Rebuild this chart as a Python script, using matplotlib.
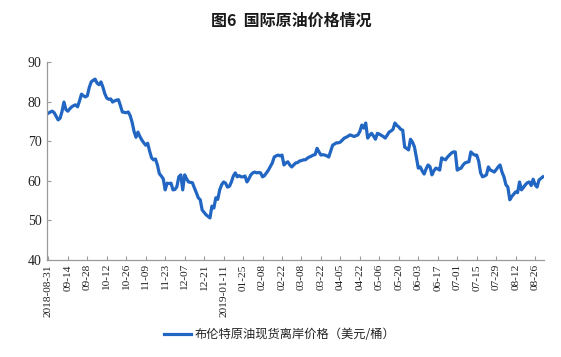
import matplotlib

matplotlib.use("Agg")

import matplotlib.pyplot as plt  # noqa: E402
import numpy as np  # noqa: E402

# ---------- Data (Brent spot FOB, USD/bbl, trading days) ----------

TICK_LABELS = [
    "2018-08-31", "09-14", "09-28", "10-12", "10-26", "11-09", "11-23",
    "12-07", "12-21", "2019-01-11", "01-25", "02-08", "02-22", "03-08",
    "03-22", "04-05", "04-22", "05-06", "05-20", "06-03", "06-17",
    "07-01", "07-15", "07-29", "08-12", "08-26",
]
TICK_STEP = 10  # one label every 10 trading days

BRENT = [
    77.1, 77.4, 77.6, 77.2, 76.3, 75.4, 75.8, 77.5, 79.9, 78.0,
    77.6, 78.2, 78.7, 79.0, 79.2, 78.7, 80.2, 81.9, 81.5, 81.2,
    81.5, 83.6, 85.0, 85.4, 85.7, 84.7, 84.3, 85.0, 83.7, 82.0,
    80.9, 80.6, 80.7, 79.9, 80.2, 80.4, 80.5, 79.0, 77.4, 77.3,
    77.2, 77.4, 76.5, 74.8, 72.5, 71.0, 72.3, 71.2, 70.3, 69.6,
    69.0, 69.5, 67.5, 65.8, 65.3, 65.5, 64.0, 61.8, 61.2, 60.5,
    57.7, 59.4, 59.3, 59.4, 57.7, 57.8, 58.5, 61.0, 61.5, 57.7,
    61.5, 60.5, 59.7, 59.6, 59.5, 58.2, 57.0, 55.7, 55.2, 52.6,
    52.0, 51.4, 51.0, 50.6, 53.6, 53.1, 55.7, 55.3, 57.7, 59.0,
    59.7, 59.4, 58.4, 58.6, 59.7, 61.2, 62.0, 61.0, 61.3, 61.0,
    61.0, 61.2, 59.7, 60.5, 61.5, 62.0, 62.2, 62.0, 62.1, 62.0,
    61.0, 61.3, 62.0, 62.7, 63.6, 64.5, 66.0, 66.3, 66.5, 66.3,
    66.5, 64.0, 64.5, 64.8, 64.0, 63.5, 64.0, 64.5, 64.6, 65.0,
    65.1, 65.3, 65.3, 65.7, 66.0, 66.2, 66.5, 66.6, 68.2, 67.3,
    66.5, 66.6, 66.5, 66.3, 66.0, 67.5, 69.0, 69.3, 69.6, 69.6,
    69.8, 70.3, 70.8, 71.0, 71.3, 71.6, 71.4, 71.2, 71.4, 71.6,
    72.5, 74.1, 73.3, 74.6, 70.8, 71.5, 72.0, 71.3, 70.5, 72.0,
    71.8, 71.5, 71.2, 70.8, 71.5, 72.3, 72.6, 73.0, 74.6, 74.0,
    73.6, 73.0, 72.8, 68.5, 68.2, 67.8, 70.5, 69.8, 68.6, 66.0,
    63.2, 63.5, 62.5, 61.7, 63.0, 64.0, 63.6, 61.5, 62.5, 63.2,
    63.0, 62.7, 65.8, 65.5, 65.3, 66.0, 66.5, 67.0, 67.3, 67.3,
    62.7, 63.0, 63.2, 64.0, 64.5, 64.7, 64.8, 67.3, 66.8, 66.5,
    66.5, 65.0, 62.0, 61.0, 61.2, 61.5, 63.5, 62.7, 62.5, 62.2,
    62.8, 63.5, 64.0, 62.2, 61.0, 59.0, 58.4, 55.2, 56.0, 56.6,
    57.2, 57.0, 59.7, 57.7, 58.3, 59.0, 59.5, 59.7, 58.8, 60.4,
    59.0, 58.4, 60.2, 60.6, 61.0,
]

SERIES_NAME = "布伦特原油现货离岸价格（美元/桶）"
TITLE = "图6  国际原油价格情况"

plt.rcParams["font.family"] = ["Noto Sans CJK SC", "DejaVu Sans"]

fig = plt.figure(figsize=(5.61, 3.57), dpi=100)
ax = fig.add_axes([0.0838, 0.272, 0.886, 0.554])

x = np.arange(len(BRENT))
ax.plot(x, BRENT, color="#2166C2", lw=2.3, label=SERIES_NAME, solid_joinstyle="round")

ax.set_ylim(40, 90)
ax.set_yticks(range(40, 91, 10))
ax.set_xlim(-0.7, 254.6)
ax.set_xticks(np.arange(len(TICK_LABELS)) * TICK_STEP)
ax.set_xticklabels(TICK_LABELS, rotation=90, family="Liberation Serif", fontsize=8.2)
for lbl in ax.get_yticklabels():
    lbl.set_family("Liberation Serif")
    lbl.set_fontsize(10)

for side in ("top", "right"):
    ax.spines[side].set_visible(False)
for side in ("left", "bottom"):
    ax.spines[side].set_color("#9a9a9a")
    ax.spines[side].set_linewidth(0.9)
ax.tick_params(axis="both", direction="in", length=3, width=0.8, color="#9a9a9a",
               labelcolor="#222222")
ax.tick_params(axis="x", pad=3)
ax.tick_params(axis="y", pad=4)

fig.text(0.519, 0.943, TITLE, ha="center", va="center", fontsize=11.5, weight="bold",
         color="#1a1a1a")
fig.legend(loc="center", bbox_to_anchor=(0.499, 0.062), frameon=False, fontsize=8.8,
           handlelength=2.2, handletextpad=0.3, labelcolor="#222222")

fig.savefig("out.png", dpi=100)
